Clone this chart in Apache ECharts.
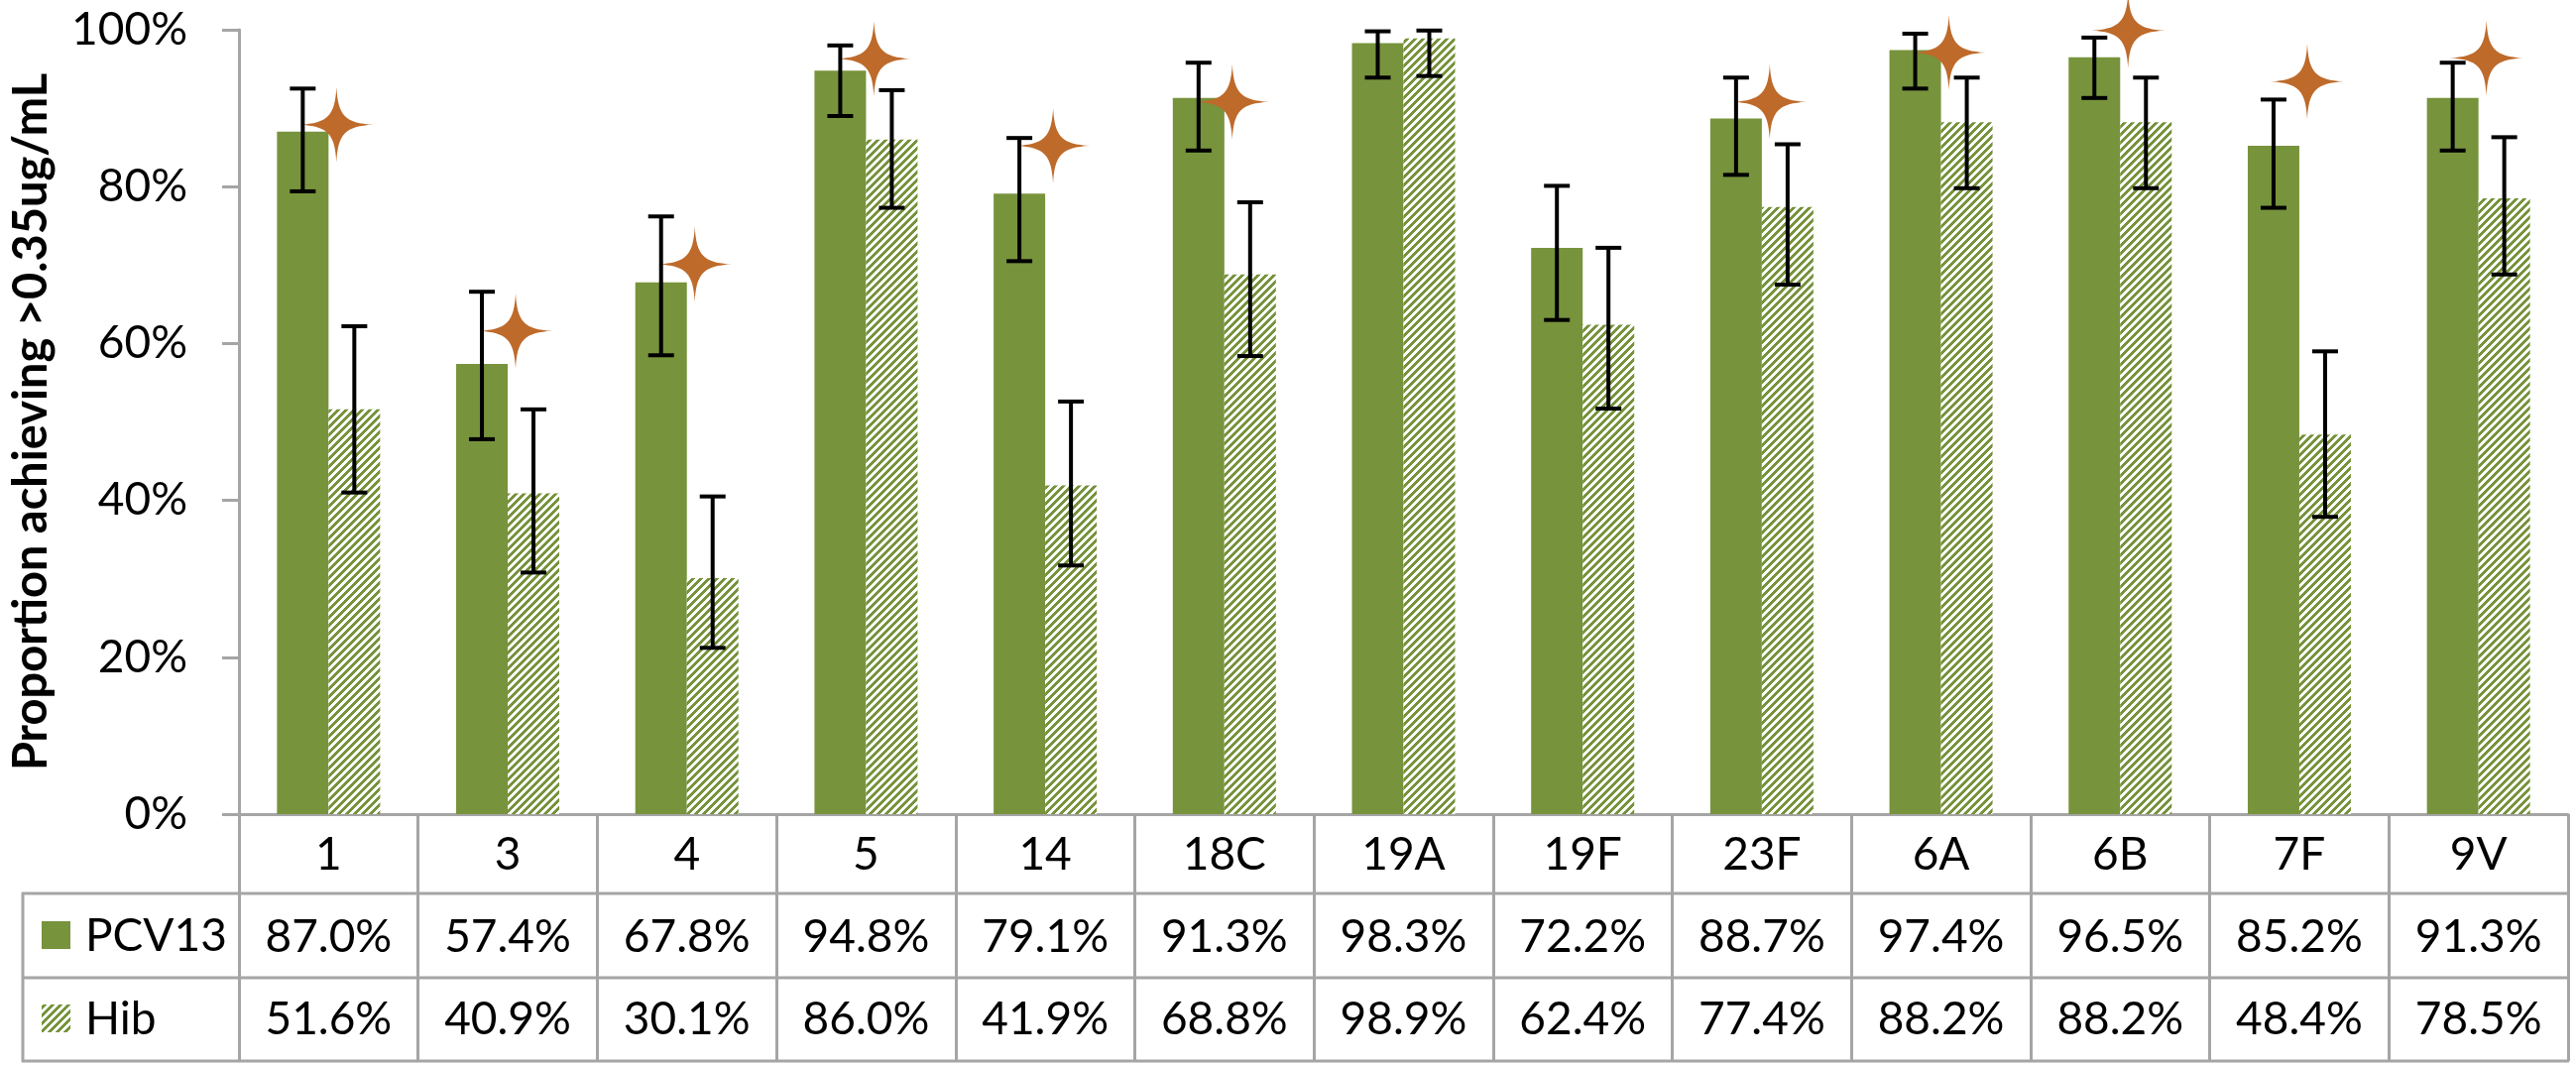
<!DOCTYPE html>
<html>
<head>
<meta charset="utf-8">
<script src="https://cdn.jsdelivr.net/npm/echarts@6/dist/echarts.min.js"></script>
<style>
  html, body { margin: 0; padding: 0; background: #fff; }
  #chart { width: 2598px; height: 1074px; }
</style>
</head>
<body>
<div id="chart"></div>
<script>
// serotypes
var categories = ['1', '3', '4', '5', '14', '18C', '19A', '19F', '23F', '6A', '6B', '7F', '9V'];
// proportion achieving >0.35ug/mL (%)
var pcv13 = [87.0, 57.4, 67.8, 94.8, 79.1, 91.3, 98.3, 72.2, 88.7, 97.4, 96.5, 85.2, 91.3];
var hib   = [51.6, 40.9, 30.1, 86.0, 41.9, 68.8, 98.9, 62.4, 77.4, 88.2, 88.2, 48.4, 78.5];
// confidence intervals
var pcv13Low  = [79.4, 47.8, 58.5, 89.0, 70.5, 84.6, 93.9, 63.0, 81.5, 92.5, 91.3, 77.3, 84.6];
var pcv13High = [92.5, 66.6, 76.2, 98.0, 86.2, 95.8, 99.8, 80.1, 93.9, 99.5, 99.0, 91.1, 95.8];
var hibLow    = [41.0, 30.8, 21.2, 77.3, 31.7, 58.4, 94.1, 51.7, 67.5, 79.8, 79.8, 37.9, 68.8];
var hibHigh   = [62.2, 51.6, 40.5, 92.3, 52.6, 78.0, 99.9, 72.2, 85.4, 93.9, 93.9, 59.0, 86.3];
// significance stars (none for 19A, 19F)
var stars = [87.9, 61.6, 70.1, 96.3, 85.2, 90.8, null, null, 90.8, 97.1, 99.9, 93.4, 96.4];
var yTicks = [0, 20, 40, 60, 80, 100];

var GREEN = '#77933C';
var STAR = '#BE6A2A';
var GRID_GRAY = '#A5A5A5';
var FONT = 'Lato';
var BAR_W = 52;

// wide upward diagonal hatch, drawn pixel by pixel so it stays crisp
function makeHatch() {
	var c = document.createElement('canvas');
	c.width = 8; c.height = 8;
	var g = c.getContext('2d');
	g.fillStyle = '#fff';
	g.fillRect(0, 0, 8, 8);
	g.fillStyle = GREEN;
	for (var x = 0; x < 8; x++) {
		for (var y = 0; y < 8; y++) {
			if ((x + y) % 8 < 4) g.fillRect(x, y, 1, 1);
		}
	}
	return c;
}
var hatch = { image: makeHatch(), repeat: 'repeat' };

function errData(lo, hi) {
	var out = [];
	for (var i = 0; i < lo.length; i++) out.push([i, lo[i], hi[i]]);
	return out;
}

function errRender(offset) {
	return function (params, api) {
		var top = api.coord([api.value(0), api.value(2)]);
		var bot = api.coord([api.value(0), api.value(1)]);
		var x = top[0] + offset;
		var cap = 13;
		var st = { stroke: '#000', lineWidth: 4 };
		return {
			type: 'group',
			children: [
				{ type: 'line', shape: { x1: x, y1: top[1], x2: x, y2: bot[1] }, style: st },
				{ type: 'line', shape: { x1: x - cap, y1: top[1], x2: x + cap, y2: top[1] }, style: st },
				{ type: 'line', shape: { x1: x - cap, y1: bot[1], x2: x + cap, y2: bot[1] }, style: st }
			]
		};
	};
}

var chart = echarts.init(document.getElementById('chart'));

var option = {
	backgroundColor: '#fff',
	animation: false,
	grid: { left: 237, right: 8, top: 30, bottom: 253 },
	xAxis: {
		type: 'category',
		data: categories,
		axisLine: { lineStyle: { color: GRID_GRAY, width: 3 } },
		axisTick: { show: true, interval: 0, length: 249, lineStyle: { color: GRID_GRAY, width: 3 } },
		axisLabel: {
			interval: 0,
			margin: 0,
			formatter: function (v, i) {
				return '{c|' + v + '}\n{v|' + pcv13[i].toFixed(1) + '%}\n{v|' + hib[i].toFixed(1) + '%}';
			},
			rich: {
				c: { fontFamily: FONT, fontSize: 46, color: '#000', lineHeight: 83 },
				v: { fontFamily: FONT, fontSize: 46, color: '#000', lineHeight: 83 }
			}
		}
	},
	yAxis: {
		type: 'value',
		min: yTicks[0],
		max: yTicks[yTicks.length - 1],
		interval: 20,
		name: 'Proportion achieving >0.35ug/mL',
		nameLocation: 'middle',
		nameGap: 186,
		nameTextStyle: { fontFamily: FONT, fontSize: 47, fontWeight: 'bold', color: '#000' },
		axisLine: { show: true, lineStyle: { color: GRID_GRAY, width: 3 } },
		axisTick: { show: true, length: 17, lineStyle: { color: GRID_GRAY, width: 3 } },
		splitLine: { show: false },
		axisLabel: { formatter: '{value}%', fontFamily: FONT, fontSize: 46, color: '#000', margin: 52 }
	},
	series: [
		{
			name: 'PCV13',
			type: 'bar',
			data: pcv13,
			barWidth: BAR_W,
			barGap: '0%',
			itemStyle: { color: GREEN }
		},
		{
			name: 'Hib',
			type: 'bar',
			data: hib,
			barWidth: BAR_W,
			itemStyle: { color: hatch }
		},
		{
			type: 'custom',
			data: errData(pcv13Low, pcv13High),
			encode: { x: 0, y: [1, 2] },
			renderItem: errRender(-BAR_W / 2),
			z: 5
		},
		{
			type: 'custom',
			data: errData(hibLow, hibHigh),
			encode: { x: 0, y: [1, 2] },
			renderItem: errRender(BAR_W / 2),
			z: 5
		},
		{
			type: 'scatter',
			data: stars.map(function (v) { return v == null ? '-' : v; }),
			symbol: 'path://M50,0 C52,38 62,48 100,50 C62,52 52,62 50,100 C48,62 38,52 0,50 C38,48 48,38 50,0 Z',
			symbolSize: [74, 76],
			symbolOffset: [8, 0],
			itemStyle: { color: STAR, opacity: 1 },
			z: 4
		}
	],
	graphic: [
		{ type: 'line', shape: { x1: 22, y1: 901, x2: 2591, y2: 901 }, style: { stroke: GRID_GRAY, lineWidth: 3 } },
		{ type: 'line', shape: { x1: 22, y1: 986, x2: 2591, y2: 986 }, style: { stroke: GRID_GRAY, lineWidth: 3 } },
		{ type: 'line', shape: { x1: 22, y1: 1070, x2: 2591, y2: 1070 }, style: { stroke: GRID_GRAY, lineWidth: 3 } },
		{ type: 'line', shape: { x1: 23, y1: 900, x2: 23, y2: 1071 }, style: { stroke: GRID_GRAY, lineWidth: 3 } },
		{ type: 'rect', shape: { x: 42, y: 929, width: 29, height: 28 }, style: { fill: GREEN } },
		{ type: 'rect', shape: { x: 42, y: 1013, width: 29, height: 28 }, style: { fill: hatch } },
		{ type: 'text', x: 86, y: 944, style: { text: 'PCV13', font: '46px Lato', fill: '#000', verticalAlign: 'middle' } },
		{ type: 'text', x: 86, y: 1028, style: { text: 'Hib', font: '46px Lato', fill: '#000', verticalAlign: 'middle' } }
	]
};

chart.setOption(option);
</script>
</body>
</html>
